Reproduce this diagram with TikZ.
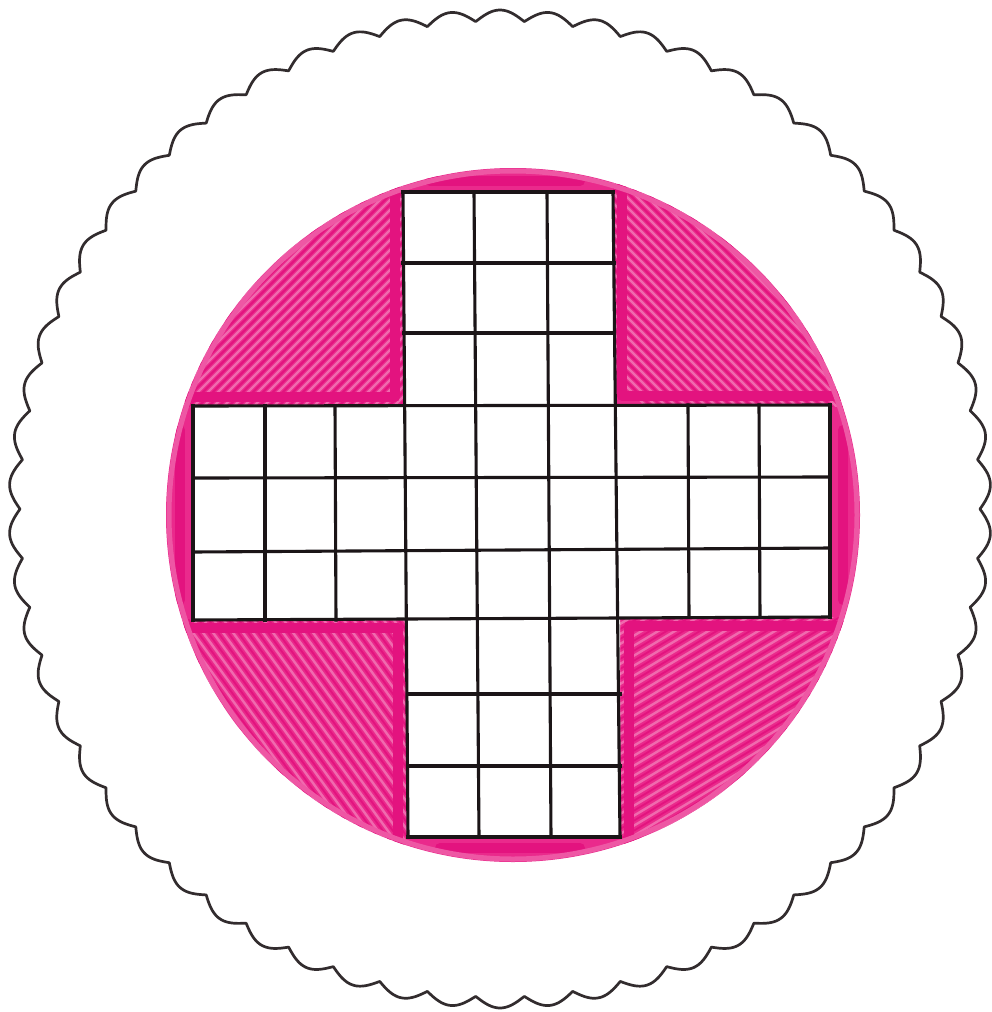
\documentclass[tikz,border=0pt]{standalone}
\definecolor{pinkbase}{HTML}{EA2A8C}
\definecolor{pinklight}{HTML}{F06AAE}
\definecolor{pinkdark}{HTML}{E3137F}
\definecolor{ink}{HTML}{1B1517}
\begin{document}
\begin{tikzpicture}[x=1pt,y=-1pt,
  gridline/.style={draw=ink, line width=3.1pt, line cap=rect},
  scallop/.style={draw=ink!90, line width=2.7pt, line join=round},
  hatch/.style={draw=pinklight, line width=2.4pt},
  hatchdark/.style={draw=pinkdark, line width=1.8pt},
  edgestroke/.style={draw=pinkdark, line width=10pt, line cap=round, line join=round},
  rim/.style={draw=pinklight!70!pinkbase, line width=5pt}]
\fill[white] (0,0) rectangle (992,1012);
\useasboundingbox (0,0) rectangle (992,1012);

% scalloped outline
\draw[scallop] plot[domain=0:360, samples=1861]
  ({500+(480+11*abs(sin(31*\x)))*cos(\x)}, {509+(488+11*abs(sin(31*\x)))*sin(\x)}) -- cycle;

% pink disc
\coordinate (C) at (513,515);
\fill[pinkbase] (C) circle[radius=347pt];
\begin{scope}
  \clip (C) circle[radius=347pt];
  % top-left: "/"
  \begin{scope}
    \clip (0,0) rectangle (404,406);
    \foreach \k in {0,10,...,900} {
      \draw[hatch] (\k-300,560) -- ++(560,-560);
      \draw[hatchdark] (\k-295,560) -- ++(560,-560);
    }
  \end{scope}
  % top-right: "\"
  \begin{scope}
    \clip (613,0) rectangle (992,406);
    \foreach \k in {0,10,...,900} {
      \draw[hatch] (\k+200,-40) -- ++(560,560);
      \draw[hatchdark] (\k+205,-40) -- ++(560,560);
    }
  \end{scope}
  % bottom-left: "\" steeper
  \begin{scope}
    \clip (0,619) rectangle (408,1012);
    \foreach \k in {0,10,...,900} {
      \draw[hatch] (\k-350,560) -- ++(380,520);
      \draw[hatchdark] (\k-345,560) -- ++(380,520);
    }
  \end{scope}
  % bottom-right: "/" shallow
  \begin{scope}
    \clip (620,617) rectangle (992,1012);
    \foreach \k in {0,10,...,900} {
      \draw[hatch] (560,\k+400) -- ++(500,-300);
      \draw[hatchdark] (560,\k+405) -- ++(500,-300);
    }
  \end{scope}
  % bold marker strokes along the cross
  \draw[edgestroke] (395,120) -- (395,397) -- (120,397);
  \draw[edgestroke] (622,120) -- (622,396) -- (900,396);
  \draw[edgestroke] (120,628) -- (398,628) -- (398,900);
  \draw[edgestroke] (900,626) -- (629,626) -- (629,900);
  \draw[edgestroke] (430,181) -- (580,181);
  \draw[edgestroke] (440,848) -- (580,848);
  \draw[edgestroke] (180,430) -- (180,600);
  \draw[edgestroke] (843,430) -- (843,600);
\end{scope}
\draw[rim] (C) circle[radius=344pt];

% white cross
\fill[white] (403,192) -- (613,192) -- (615,405) -- (830,405) -- (830,617)
  -- (620,617) -- (620,837) -- (408,837) -- (407,620) -- (193,620)
  -- (193,406) -- (405,406) -- cycle;

% grid
\draw[gridline] (403,192) -- (408,837);
\draw[gridline] (474,192) -- (479,837);
\draw[gridline] (547,192) -- (551,837);
\draw[gridline] (613,192) -- (620,837);
\draw[gridline] (193,406) -- (830,405);
\draw[gridline] (193,478) -- (830,477);
\draw[gridline] (193,552) -- (830,548);
\draw[gridline] (193,620) -- (830,617);
\draw[gridline] (403,192) -- (613,192);
\draw[gridline] (403,263) -- (614,263);
\draw[gridline] (404,333) -- (614,333);
\draw[gridline] (408,694) -- (620,694);
\draw[gridline] (408,766) -- (620,766);
\draw[gridline] (408,837) -- (620,837);
\draw[gridline] (193,406) -- (193,620);
\draw[gridline] (265,406) -- (265,620);
\draw[gridline] (335,406) -- (336,620);
\draw[gridline] (688,405) -- (689,617);
\draw[gridline] (759,405) -- (760,617);
\draw[gridline] (830,405) -- (830,617);
\end{tikzpicture}
\end{document}
